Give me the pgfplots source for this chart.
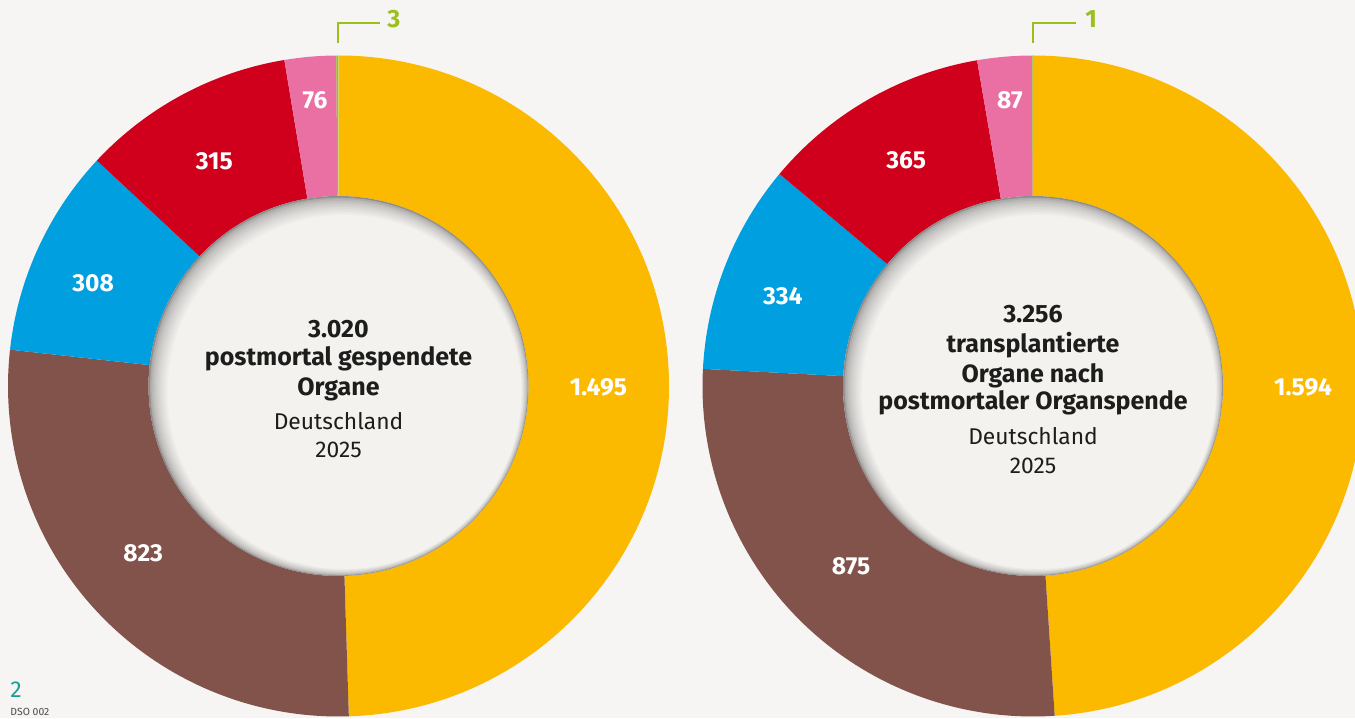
\documentclass[border=0pt]{standalone}
\usepackage{pgfplots}
\pgfplotsset{compat=1.18}
\usepackage{pgfplotstable}
\usepackage{fontspec}
\setmainfont{Fira Sans}
\definecolor{bg}{HTML}{F6F5F3}
\definecolor{disc}{HTML}{F3F2EF}
\definecolor{discC}{HTML}{8E8D8B}
\definecolor{cYellow}{HTML}{FBBA00}
\definecolor{cBrown}{HTML}{82534B}
\definecolor{cBlue}{HTML}{009FDF}
\definecolor{cRed}{HTML}{D0001C}
\definecolor{cPink}{HTML}{EA70A4}
\definecolor{cGreen}{HTML}{9CBF1E}
\definecolor{cTeal}{HTML}{17A096}
\definecolor{txt}{HTML}{1D1D1B}

% value, colour, label radius (px), label angle offset (deg)
\pgfplotstableread{
value col lr lo
1495 cYellow 260 -1.1
823 cBrown 257 -2.2
308 cBlue 266 2.0
315 cRed 257 0.7
76 cPink 287 -0.2
3 cGreen 0 0
}\leftdata
\pgfplotstableread{
value col lr lo
1594 cYellow 270 -2.1
875 cBrown 256 -0.7
334 cBlue 266 1.6
365 cRed 259 -0.6
87 cPink 287 -0.3
1 cGreen 0 0
}\rightdata

\newcommand\prepdonut[4]{%
  \xdef\dntot{0}%
  \foreach \i in {0,...,5}{%
    \pgfplotstablegetelem{\i}{value}\of#1%
    \pgfmathsetmacro\dnT{\dntot+\pgfplotsretval}%
    \xdef\dntot{\dnT}}%
  \expandafter\xdef\csname #2tot\endcsname{\dntot}%
  \xdef\dncum{90}%
  \foreach \i in {0,...,5}{%
    \pgfplotstablegetelem{\i}{value}\of#1%
    \let\dnval\pgfplotsretval
    \expandafter\xdef\csname #2v\i\endcsname{\dnval}%
    \pgfmathsetmacro\dnE{\dncum-360*(\dnval/\dntot)}%
    \pgfplotstablegetelem{\i}{lo}\of#1%
    \pgfmathsetmacro\dnM{(\dncum+\dnE)/2+\pgfplotsretval}%
    \expandafter\xdef\csname #2s\i\endcsname{\dncum}%
    \expandafter\xdef\csname #2e\i\endcsname{\dnE}%
    \pgfmathsetmacro\dnA{#3+330.5*cos(\dncum)}%
    \pgfmathsetmacro\dnB{#4+330.5*sin(\dncum)}%
    \expandafter\xdef\csname #2ox\i\endcsname{\dnA}%
    \expandafter\xdef\csname #2oy\i\endcsname{\dnB}%
    \pgfmathsetmacro\dnA{#3+190*cos(\dnE)}%
    \pgfmathsetmacro\dnB{#4+190*sin(\dnE)}%
    \expandafter\xdef\csname #2ix\i\endcsname{\dnA}%
    \expandafter\xdef\csname #2iy\i\endcsname{\dnB}%
    \pgfplotstablegetelem{\i}{lr}\of#1%
    \pgfmathsetmacro\dnA{#3+\pgfplotsretval*cos(\dnM)}%
    \pgfmathsetmacro\dnB{#4+\pgfplotsretval*sin(\dnM)}%
    \expandafter\xdef\csname #2lx\i\endcsname{\dnA}%
    \expandafter\xdef\csname #2ly\i\endcsname{\dnB}%
    \pgfplotstablegetelem{\i}{col}\of#1%
    \expandafter\xdef\csname #2c\i\endcsname{\pgfplotsretval}%
    \xdef\dncum{\dnE}}%
}

\newcommand\lblfont{\bfseries\fontsize{12.3}{14}\selectfont}
\newcommand\ctrb{\bfseries\fontsize{12.5}{14}\selectfont}
\newcommand\ctrr{\fontsize{11.4}{13}\selectfont}
\newcommand\dnnum[1]{\pgfmathprintnumber[1000 sep={.},assume math mode=true]{#1}}

\newcommand\donut[3]{%
  \pgfplotsinvokeforeach{0,1,2,3,4,5}{%
    \edef\tmp{\noexpand\fill[\csname #1c##1\endcsname] (axis cs:\csname #1ox##1\endcsname,\csname #1oy##1\endcsname)
      arc[start angle=\csname #1s##1\endcsname,end angle=\csname #1e##1\endcsname,radius=165.25pt]
      -- (axis cs:\csname #1ix##1\endcsname,\csname #1iy##1\endcsname)
      arc[start angle=\csname #1e##1\endcsname,end angle=\csname #1s##1\endcsname,radius=95pt] -- cycle;}\tmp
  }%
  \fill[discC] (axis cs:#2,#3) circle[radius=95pt];
  \pgfplotsinvokeforeach{1,2,3,4,5,6,7,8,9,10,11,12}{%
    \pgfmathsetmacro\shp{100*sqrt(##1/12)}%
    \pgfmathsetmacro\shr{95-##1*0.55}%
    \pgfmathsetmacro\shx{#2+##1*0.5}%
    \pgfmathsetmacro\shy{#3-##1*0.5}%
    \edef\tmp{\noexpand\fill[disc!\shp!discC] (axis cs:\shx,\shy) circle[radius=\shr pt];}\tmp
  }%
  \pgfplotsinvokeforeach{0,1,2,3,4}{%
    \edef\tmp{\noexpand\node[font=\noexpand\lblfont,text=white] at (axis cs:\csname #1lx##1\endcsname,\csname #1ly##1\endcsname) {\noexpand\dnnum{\csname #1v##1\endcsname}};}\tmp
  }%
}

\begin{document}
\begin{tikzpicture}
\prepdonut{\leftdata}{L}{338.5}{332}
\prepdonut{\rightdata}{R}{1033}{332}
\begin{axis}[width=677.5pt,height=359pt,scale only axis,xmin=0,xmax=1355,ymin=0,ymax=718,
  hide axis,clip=true,clip mode=global,clip bounding box=upper bound,enlargelimits=false]
\fill[bg] (axis cs:0,0) rectangle (axis cs:1355,718);
\donut{L}{338.5}{332}
\donut{R}{1033}{332}
\draw[cGreen,line width=1pt] (axis cs:337.7,675) -- (axis cs:337.7,694.7) -- (axis cs:380,694.7);
\node[anchor=base west,inner sep=0,font=\bfseries\fontsize{12.5}{14}\selectfont,text=cGreen] at (axis cs:387,690) {\dnnum{\csname Lv5\endcsname}};
\draw[cGreen,line width=1pt] (axis cs:1033.3,675) -- (axis cs:1033.3,694.7) -- (axis cs:1076,694.7);
\node[anchor=base west,inner sep=0,font=\bfseries\fontsize{12.5}{14}\selectfont,text=cGreen] at (axis cs:1085,690) {\dnnum{\csname Rv5\endcsname}};
\node[anchor=base,inner sep=0,font=\ctrb,text=txt] at (axis cs:338.5,380) {\dnnum{\Ltot}};
\node[anchor=base,inner sep=0,font=\ctrb,text=txt] at (axis cs:338.5,352) {postmortal gespendete};
\node[anchor=base,inner sep=0,font=\ctrb,text=txt] at (axis cs:338.5,322) {Organe};
\node[anchor=base,inner sep=0,font=\ctrr,text=txt] at (axis cs:338.5,288) {Deutschland};
\node[anchor=base,inner sep=0,font=\ctrr,text=txt] at (axis cs:338.5,260) {2025};
\node[anchor=base,inner sep=0,font=\ctrb,text=txt] at (axis cs:1033,395) {\dnnum{\Rtot}};
\node[anchor=base,inner sep=0,font=\ctrb,text=txt] at (axis cs:1033,365) {transplantierte};
\node[anchor=base,inner sep=0,font=\ctrb,text=txt] at (axis cs:1033,335) {Organe nach};
\node[anchor=base,inner sep=0,font=\ctrb,text=txt] at (axis cs:1033,308) {postmortaler Organspende};
\node[anchor=base,inner sep=0,font=\ctrr,text=txt] at (axis cs:1033,273) {Deutschland};
\node[anchor=base,inner sep=0,font=\ctrr,text=txt] at (axis cs:1033,244) {2025};
\node[anchor=base west,inner sep=0,font=\fontsize{11.5}{13}\selectfont,text=cTeal] at (axis cs:10,20.3) {2};
\node[anchor=base west,inner sep=0,font=\fontsize{5.2}{6}\selectfont,text=black!70] at (axis cs:10,2.5) {DSO 002};
\end{axis}
\end{tikzpicture}
\end{document}
